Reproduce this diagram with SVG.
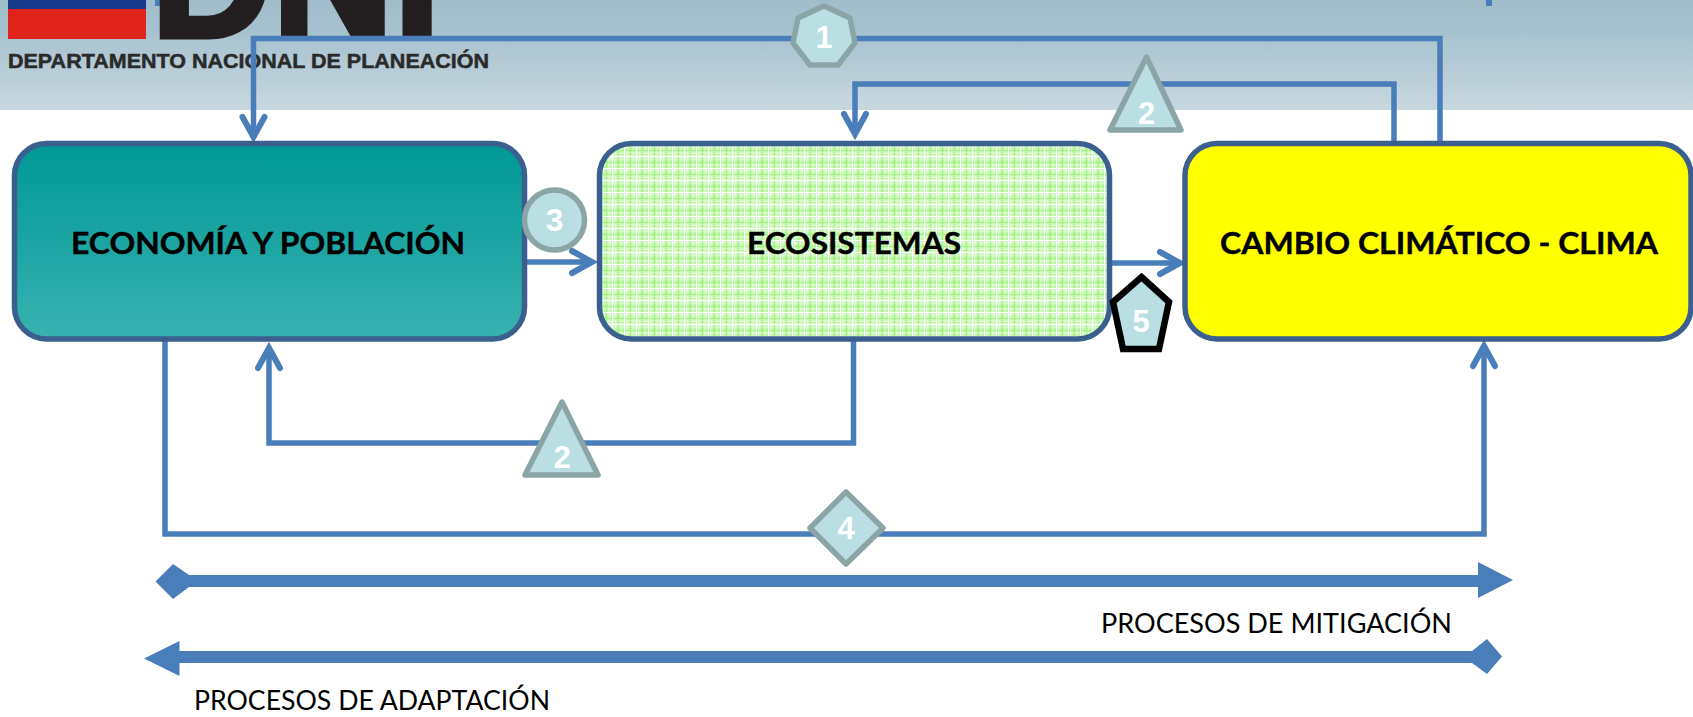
<svg xmlns="http://www.w3.org/2000/svg" width="1693" height="717" viewBox="0 0 1693 717">
<defs>
<linearGradient id="hdr" x1="0" y1="0" x2="0" y2="1"><stop offset="0" stop-color="#a0bdca"/><stop offset="0.3" stop-color="#a7c2cf"/><stop offset="1" stop-color="#c9d8df"/></linearGradient>
<linearGradient id="teal" x1="0" y1="0" x2="0" y2="1"><stop offset="0" stop-color="#009896"/><stop offset="1" stop-color="#38b2b0"/></linearGradient>
<pattern id="grid" width="24" height="24" patternUnits="userSpaceOnUse"><rect width="24" height="24" fill="#bdf6a5"/><path d="M0 3H24M0 9H24M0 15H24M0 21H24M3 0V24M9 0V24M15 0V24M21 0V24" stroke="#e6fcdc" stroke-width="1"/><path d="M0 6.500H24M0 18.500H24M6.500 0V24M18.500 0V24" stroke="#a6f188" stroke-width="1"/><path d="M0 0.500H24M0 12.500H24M0.500 0V24M12.500 0V24" stroke="#ffffff" stroke-width="1.300"/></pattern>
<marker id="open" viewBox="0 0 34 34" markerUnits="userSpaceOnUse" markerWidth="34" markerHeight="34" refX="25" refY="17" orient="auto"><path d="M4 6L24 17L4 28" fill="none" stroke="#4a7ebb" stroke-width="6" stroke-linecap="round" stroke-linejoin="miter"/></marker>
</defs>
<style>
.box{stroke:#3b608f;stroke-width:5.500}
.lbl{font-family:Lato,"Liberation Sans",sans-serif;font-weight:700;font-size:31px;fill:#000;stroke:#000;stroke-width:0.400}
.link{fill:none;stroke:#4a7ebb;stroke-width:5.500;stroke-linejoin:miter}
.thick{fill:#4a7ebb;stroke:none}
.badge{fill:#b9dfe3;stroke:#8ba5a7;stroke-width:5.500;stroke-linejoin:round}
.num{font-family:"Liberation Sans",Arial,sans-serif;font-weight:700;font-size:31px;fill:#fff;text-anchor:middle}
.cap{font-family:Lato,"Liberation Sans",sans-serif;font-size:26px;fill:#000}
</style>
<rect width="1693" height="717" fill="#fff"/>
<g id="header">
<rect width="1693" height="110" fill="url(#hdr)"/>
<rect x="8" y="0" width="138" height="9" fill="#17398c"/>
<rect x="8" y="9" width="138" height="30" fill="#e0241b"/>
<rect x="155" y="0" width="7" height="6" fill="#4a7ebb"/>
<rect x="1486" y="0" width="6" height="6" fill="#4a7ebb"/>
<text x="151" y="36.500" font-family="Liberation Sans,Arial,sans-serif" font-weight="700" font-size="168" fill="#231f20" stroke="#231f20" stroke-width="5">DNP</text>
<text x="8" y="68" font-family="Liberation Sans,Arial,sans-serif" font-weight="700" font-size="21" fill="#2a2a2a" stroke="#2a2a2a" stroke-width="0.500" textLength="481" lengthAdjust="spacingAndGlyphs">DEPARTAMENTO NACIONAL DE PLANEACIÓN</text>
</g>
<g id="connectors">
<path class="link" d="M1440 141V38.500H253.500V138" marker-end="url(#open)"/>
<path class="link" d="M1394 143V84H855V135" marker-end="url(#open)"/>
<path class="link" d="M524 262H593" marker-end="url(#open)"/>
<path class="link" d="M1112 263H1181" marker-end="url(#open)"/>
<path class="link" d="M853.500 341V443H269V347" marker-end="url(#open)"/>
<path class="link" d="M165 341V534H1484V345" marker-end="url(#open)"/>
<path class="thick" d="M155.500 581.500L173 564L189 575H1478V562L1513 580L1478 598V587H189L173 599Z"/>
<path class="thick" d="M144 658.500L179.500 641V651H1472L1487 639L1502 656.500L1487 674L1472 663H179.500V676Z"/>
</g>
<g id="n-economia"><rect class="box" x="14.500" y="143.500" width="510" height="195.500" rx="32" fill="url(#teal)"/><text class="lbl" x="71" y="254" textLength="394" lengthAdjust="spacingAndGlyphs">ECONOMÍA Y POBLACIÓN</text></g>
<g id="n-ecosistemas"><rect class="box" x="599.500" y="143.500" width="510" height="195.500" rx="32" fill="url(#grid)"/><text class="lbl" x="747" y="254" textLength="214" lengthAdjust="spacingAndGlyphs">ECOSISTEMAS</text></g>
<g id="n-clima"><rect class="box" x="1185" y="143.500" width="506" height="195.500" rx="32" fill="#ffff00"/><text class="lbl" x="1220" y="254" textLength="438" lengthAdjust="spacingAndGlyphs">CAMBIO CLIMÁTICO - CLIMA</text></g>
<g id="b1"><polygon class="badge" points="824,6 850,18 855,43 838,65 810,65 793,43 798,18"/><text class="num" x="824" y="48">1</text></g>
<g id="b2a"><polygon class="badge" points="1146.500,57 1181,130 1110,130"/><text class="num" x="1146.500" y="124">2</text></g>
<g id="b2b"><polygon class="badge" points="562,402 598,475 525,475"/><text class="num" x="562" y="468">2</text></g>
<g id="b3"><circle class="badge" cx="554.500" cy="220" r="30"/><text class="num" x="554.500" y="231">3</text></g>
<g id="b4"><polygon class="badge" points="846,492 883,528 846,564 810,528"/><text class="num" x="846" y="539">4</text></g>
<g id="b5"><polygon class="badge" style="stroke:#000;stroke-width:6.500;stroke-linejoin:miter" points="1141.500,277 1169,302 1159,349 1123,349 1113,302"/><text class="num" x="1141" y="332">5</text></g>
<text class="cap" x="1101" y="633" textLength="351" lengthAdjust="spacingAndGlyphs">PROCESOS DE MITIGACIÓN</text>
<text class="cap" x="194" y="710" textLength="356" lengthAdjust="spacingAndGlyphs">PROCESOS DE ADAPTACIÓN</text>
</svg>
